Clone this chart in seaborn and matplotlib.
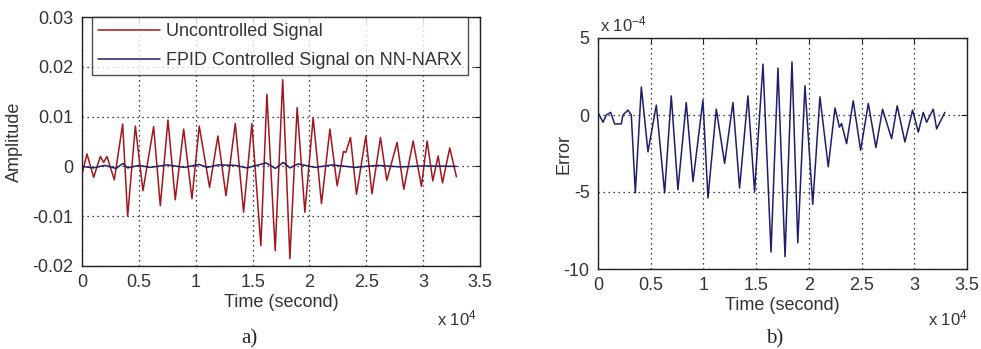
import numpy as np
import pandas as pd
import matplotlib
matplotlib.use("Agg")
import matplotlib.pyplot as plt
import seaborn as sns
from matplotlib.lines import Line2D

# ---------------- data ----------------
unc_time = [0, 440, 1025, 1610, 1900, 2200, 2840, 3575, 4015, 4690,
            5360, 6300, 6885, 7560, 8200, 8940, 9670, 10310, 11220, 11950,
            12660, 13480, 14210, 14940, 15730, 16260, 16990, 17650, 18280, 18920,
            19600, 20330, 21060, 21800, 22440, 23000, 23200, 23610, 24140, 24960,
            25500, 26250, 26800, 27710, 28300, 29120, 29850, 30350, 30850, 31320,
            31700, 32340, 32930]
unc_val = [-0.0015, 0.0025, -0.0022, 0.0020, 0.0008, 0.0020, -0.0027, 0.0085, -0.0100, 0.0081,
           -0.0049, 0.0080, -0.0079, 0.0093, -0.0067, 0.0075, -0.0065, 0.0081, -0.0042, 0.0061,
           -0.0059, 0.0086, -0.0092, 0.0086, -0.0159, 0.0145, -0.0169, 0.0174, -0.0185, 0.0118,
           -0.0092, 0.0098, -0.0075, 0.0075, -0.0039, 0.0030, 0.0028, 0.0058, -0.0056, 0.0061,
           -0.0055, 0.0058, -0.0028, 0.0048, -0.0046, 0.0051, -0.0040, 0.0051, -0.0029, 0.0021,
           -0.0033, 0.0037, -0.0021]

ctrl_time = [0, 1000, 2000, 3000, 3600, 4000, 5000, 6000, 7500, 9000,
             10300, 11000, 12000, 13500, 14500, 16200, 17000, 17700, 18300, 19000,
             20500, 22000, 24000, 26000, 28000, 30000, 32930]
ctrl_val = [0.0000, -0.0003, 0.0002, -0.0004, 0.0006, -0.0003, 0.0002, -0.0002, 0.0003, -0.0002,
            0.0004, -0.0002, 0.0003, 0.0002, -0.0003, 0.0007, -0.0004, 0.0008, -0.0003, 0.0005,
            -0.0002, 0.0003, -0.0002, 0.0002, -0.0001, 0.0001, 0.0000]

err_time = [0, 474, 790, 1200, 1580, 2210, 2370, 2840, 3160, 3540,
            4110, 4740, 5530, 6320, 6950, 7580, 8370, 9010, 9950, 10430,
            11220, 12010, 12800, 13430, 14220, 14850, 15650, 16410, 17070, 17740,
            18400, 18950, 19630, 20370, 21050, 21840, 22480, 22900, 23100, 23580,
            24210, 24910, 25640, 26360, 26990, 27850, 28380, 29110, 29840, 30380,
            30850, 31170, 31800, 32120, 32900]
# error values in units of 1e-4
err_val = [0.17, -0.47, 0.0, 0.17, -0.58, -0.58, 0.0, 0.32, 0.0, -5.06,
           1.82, -2.39, 0.64, -5.06, 1.24, -4.85, 0.81, -4.32, 0.96, -5.39,
           0.38, -3.14, 0.81, -4.74, 1.24, -4.96, 3.3, -8.9, 3.05, -9.2,
           3.45, -8.3, 1.9, -5.8, 1.18, -3.36, 0.45, -0.79, -0.55, -1.86,
           0.92, -2.29, 0.75, -2.12, 0.38, -1.54, 0.6, -1.75, 0.32, -1.11,
           0.17, -0.47, 0.38, -0.9, 0.17]

series_names = ["Uncontrolled Signal", "FPID Controlled Signal on NN-NARX"]
x_ticks = [0, 5000, 10000, 15000, 20000, 25000, 30000, 35000]
x_ticklabels = ["0", "0.5", "1", "1.5", "2", "2.5", "3", "3.5"]
y1_ticks = [-0.02, -0.01, 0, 0.01, 0.02, 0.03]
y1_ticklabels = ["-0.02", "-0.01", "0", "0.01", "0.02", "0.03"]
y2_ticks = [-10, -5, 0, 5]
y2_ticklabels = ["-10", "-5", "0", "5"]

# ---------------- style ----------------
sns.set_style("white")
plt.rcParams['font.family'] = ['Liberation Sans', 'DejaVu Sans']
plt.rcParams['mathtext.fontset'] = 'custom'
plt.rcParams['mathtext.rm'] = 'Liberation Sans'
plt.rcParams['mathtext.it'] = 'Liberation Sans:italic'

RED = "#a3161c"
NAVY = "#1e1e6e"
TXT = "#333333"
FS = 13

fig = plt.figure(figsize=(9.81, 3.49), dpi=100)
ax1 = fig.add_axes([82/981, 1-266/349, 398/981, 249/349])
ax2 = fig.add_axes([598/981, 1-269/349, 369/981, 231/349])

df1 = pd.concat([
    pd.DataFrame({"Time": unc_time, "Value": unc_val, "Signal": series_names[0]}),
    pd.DataFrame({"Time": ctrl_time, "Value": ctrl_val, "Signal": series_names[1]}),
], ignore_index=True)
sns.lineplot(data=df1, x="Time", y="Value", hue="Signal", hue_order=series_names,
             palette=[RED, NAVY], sort=False, estimator=None, lw=1.1, ax=ax1, legend=False)

df2 = pd.DataFrame({"Time": err_time, "Error": err_val})
sns.lineplot(data=df2, x="Time", y="Error", color=NAVY, sort=False, estimator=None,
             lw=1.1, ax=ax2, legend=False)

def style_axes(ax, yt, ytl, ylim):
    ax.set_xlim(0, 35000)
    ax.set_ylim(*ylim)
    ax.set_xticks(x_ticks)
    ax.set_xticklabels(x_ticklabels)
    ax.set_yticks(yt)
    ax.set_yticklabels(ytl)
    ax.grid(True, linestyle=(0, (1, 3)), color="black", lw=0.9)
    ax.tick_params(direction="in", length=4, width=0.8, top=True, right=True,
                   labelsize=FS, colors="#222222", labelcolor=TXT, pad=6)
    for s in ax.spines.values():
        s.set_color("#222222")
        s.set_linewidth(1.0)
        s.set_visible(True)
    ax.set_xlabel("Time (second)", fontsize=FS, color=TXT, labelpad=2)

style_axes(ax1, y1_ticks, y1_ticklabels, (-0.02, 0.03))
style_axes(ax2, y2_ticks, y2_ticklabels, (-10, 5))
ax1.set_ylabel("Amplitude", fontsize=FS, color=TXT)
ax2.set_ylabel("Error", fontsize=FS, color=TXT)
ax1.yaxis.set_label_coords((23-82)/398, 0.5)
ax2.yaxis.set_label_coords((572-598)/369, 0.5)

handles = [Line2D([], [], color=RED, lw=1.1), Line2D([], [], color=NAVY, lw=1.1)]
leg = ax1.legend(handles, series_names, loc="upper left", bbox_to_anchor=(0.025, 1.0),
                 borderaxespad=0, frameon=True, fancybox=False, fontsize=FS,
                 handlelength=3.4, handletextpad=0.35, labelspacing=0.65, borderpad=0.35)
leg.get_frame().set_edgecolor("#222222")
leg.get_frame().set_linewidth(1.0)
for t in leg.get_texts():
    t.set_color(TXT)

fig.text(437/981, 1-318/349, r"x 10$^{4}$", fontsize=12, color=TXT, va="center")
fig.text(928/981, 1-318/349, r"x 10$^{4}$", fontsize=12, color=TXT, va="center")
fig.text(600/981, 1-24/349, r"x 10$^{-4}$", fontsize=12, color=TXT, va="center")

fig.text(249/981, 1-339/349, "a)", family="Liberation Serif", fontsize=15, ha="center", va="center")
fig.text(775/981, 1-339/349, "b)", family="Liberation Serif", fontsize=15, ha="center", va="center")

fig.savefig("out.png", dpi=100)
